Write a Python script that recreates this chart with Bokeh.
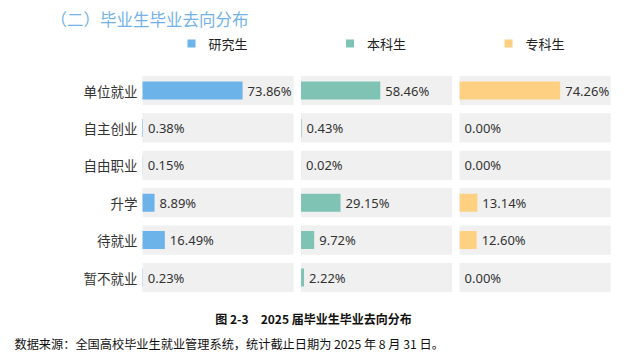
from bokeh.plotting import figure
from bokeh.models import Range1d, Label
from bokeh.embed import file_html
from bokeh.resources import INLINE
from bokeh.core.properties import value

# ---- data -------------------------------------------------------------
categories = ["单位就业", "自主创业", "自由职业", "升学", "待就业", "暂不就业"]
groups = ["研究生", "本科生", "专科生"]
graduate = [73.86, 0.38, 0.15, 8.89, 16.49, 0.23]
undergraduate = [58.46, 0.43, 0.02, 29.15, 9.72, 2.22]
junior_college = [74.26, 0.00, 0.00, 13.14, 12.60, 0.00]
series = [graduate, undergraduate, junior_college]
colors = ["#6cb3ea", "#7fc3b4", "#fdd082"]

title_text = "（二）毕业生毕业去向分布"
caption_text = "图 2-3\u2002\u20022025 届毕业生毕业去向分布"
source_text = "数据来源：全国高校毕业生就业管理系统，统计截止日期为 2025 年 8 月 31 日。"

# ---- layout -----------------------------------------------------------
W, H = 627, 357
PX_PER_PCT = 1.355      # horizontal pixels per percentage point
TRACK = 111.5           # length of the grey track, in percent units
STEP = 117.0            # distance between panel origins, in percent units
ROW_PX = 37.4           # vertical distance between rows, pixels
FIRST_ROW_PX = 90       # centre of the first row from the top
LEFT_PX = 142           # left edge of the first panel

x0 = -LEFT_PX / PX_PER_PCT
x1 = x0 + W / PX_PER_PCT
y_top = FIRST_ROW_PX / ROW_PX
y_bot = y_top - H / ROW_PX


def at(px_x, px_y):
    """Convert a page pixel position into data coordinates."""
    return x0 + px_x / PX_PER_PCT, y_top - px_y / ROW_PX


CJK = "Noto Sans CJK SC"
NUM = "Noto Sans"

p = figure(width=W, height=H, x_range=Range1d(x0, x1), y_range=Range1d(y_bot, y_top),
           output_backend="svg", toolbar_location=None,
           x_axis_location=None, y_axis_location=None,
           min_border=0, min_border_left=0, min_border_right=0,
           min_border_top=0, min_border_bottom=0)
p.grid.visible = False
p.outline_line_color = None
p.background_fill_color = "white"
p.border_fill_color = "white"

rows = [-i for i in range(len(categories))]

# category labels
p.text(x=[-5 / PX_PER_PCT] * len(rows), y=rows, text=categories,
       text_align="right", text_baseline="middle",
       text_font=value(CJK), text_font_size="13.5px", text_color="#333333")

for k, (vals, color, name) in enumerate(zip(series, colors, groups)):
    off = k * STEP
    # grey track
    p.hbar(y=rows, left=off, right=off + TRACK, height=0.78,
           fill_color="#f0f0f0", line_color=None)
    # value bars
    p.hbar(y=rows, left=off, right=[off + v for v in vals], height=0.48,
           fill_color=color, line_color=None)
    # value labels
    p.text(x=[off + v + 5 / PX_PER_PCT for v in vals], y=rows,
           text=[f"{v:.2f}%" for v in vals],
           text_align="left", text_baseline="middle",
           text_font=value(NUM), text_font_size="13px", text_color="#333333")
    # legend entry
    lx, ly = at(LEFT_PX + k * STEP * PX_PER_PCT + 49, 43)
    p.scatter(x=[lx], y=[ly], marker="square", size=8,
              fill_color=color, line_color=None)
    tx, ty = at(LEFT_PX + k * STEP * PX_PER_PCT + 66, 43)
    p.add_layout(Label(x=tx, y=ty, text=name, text_baseline="middle",
                       text_font=CJK, text_font_size="13px", text_color="#222222"))

tx, ty = at(50, 18)
p.add_layout(Label(x=tx, y=ty, text=title_text, text_baseline="middle",
                   text_font=CJK, text_font_size="16.5px", text_color="#72b2e8"))

cx, cy = at(313, 318)
p.add_layout(Label(x=cx, y=cy, text=caption_text, text_align="center",
                   text_baseline="middle", text_font=CJK, text_font_size="12px",
                   text_font_style="bold", text_color="#111111"))

sx, sy = at(14, 343)
p.add_layout(Label(x=sx, y=sy, text=source_text, text_baseline="middle",
                   text_font=CJK, text_font_size="12.2px", text_color="#111111"))

open("out.html", "w").write(file_html(p, INLINE))
